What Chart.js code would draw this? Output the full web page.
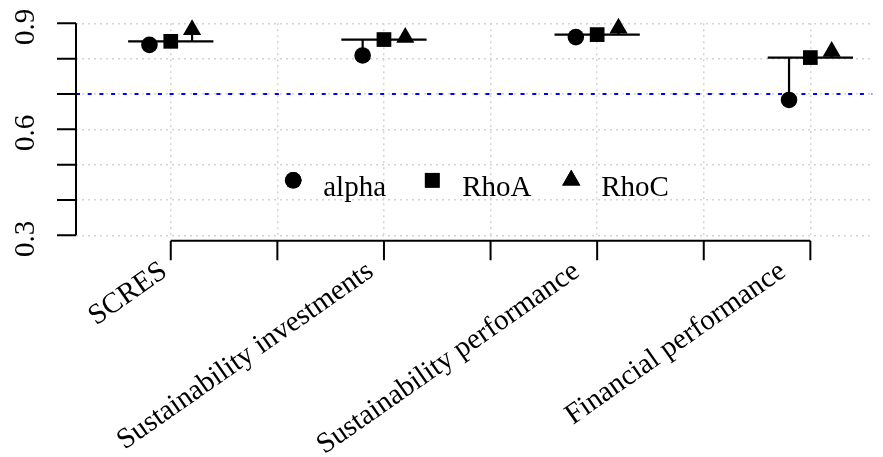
<!DOCTYPE html>
<html>
<head>
<meta charset="utf-8">
<script src="https://cdn.jsdelivr.net/npm/chart.js@4.4.1/dist/chart.umd.min.js"></script>
<style>
    html, body { margin: 0; padding: 0; background: #ffffff; }
    #wrap { width: 883px; height: 457px; position: relative; }
</style>
</head>
<body>
<div id="wrap"><canvas id="reliabilityChart"></canvas></div>
<script>
// 구성개념별 신뢰도 값
const constructs = ['SCRES', 'Sustainability investments', 'Sustainability performance', 'Financial performance'];
const constructPos = [1, 3, 5, 7];
const alphaValues = [0.839, 0.809, 0.861, 0.683];
const rhoAValues = [0.849, 0.854, 0.868, 0.803];
const rhoCValues = [0.882, 0.860, 0.886, 0.820];
const seriesNames = ['alpha', 'RhoA', 'RhoC'];
const yTicks = [0.3, 0.4, 0.5, 0.6, 0.7, 0.8, 0.9];
const yTickLabels = ['0.3', '', '', '0.6', '', '', '0.9'];
const xTicks = [1, 2, 3, 4, 5, 6, 7];
const threshold = 0.7;

const X_MIN = 0.111;
const X_MAX = 7.583;
const FONT = '29px "Liberation Serif", "Times New Roman", serif';

// 세로 기준선 + 가로 RhoA 선 데이터 만들기
function buildSegments() {
    const pts = [];
    constructPos.forEach((g, i) => {
        pts.push({ x: g - 0.4, y: rhoAValues[i] }, { x: g + 0.4, y: rhoAValues[i] }, { x: g, y: null });
        pts.push({ x: g - 0.2, y: alphaValues[i] }, { x: g - 0.2, y: rhoAValues[i] }, { x: g, y: null });
        pts.push({ x: g + 0.2, y: rhoCValues[i] }, { x: g + 0.2, y: rhoAValues[i] }, { x: g, y: null });
    });
    return pts;
}

// R 스타일 축 (첫 눈금 ~ 마지막 눈금까지만 선)
const rStyleAxes = {
    id: 'rStyleAxes',
    afterDraw(chart) {
        const { ctx, chartArea } = chart;
        const xs = chart.scales.x;
        const ys = chart.scales.y;
        ctx.save();
        ctx.strokeStyle = '#000';
        ctx.lineWidth = 2;

        // y축
        const axX = chartArea.left;
        ctx.beginPath();
        ctx.moveTo(axX, ys.getPixelForValue(yTicks[0]));
        ctx.lineTo(axX, ys.getPixelForValue(yTicks[yTicks.length - 1]));
        yTicks.forEach(v => {
            const py = ys.getPixelForValue(v);
            ctx.moveTo(axX - 19, py);
            ctx.lineTo(axX, py);
        });
        ctx.stroke();

        // x축 (플롯 영역보다 살짝 아래)
        const axY = chartArea.bottom + 5.5;
        ctx.beginPath();
        ctx.moveTo(xs.getPixelForValue(xTicks[0]), axY);
        ctx.lineTo(xs.getPixelForValue(xTicks[xTicks.length - 1]), axY);
        xTicks.forEach(v => {
            const px = xs.getPixelForValue(v);
            ctx.moveTo(px, axY);
            ctx.lineTo(px, axY + 19.5);
        });
        ctx.stroke();

        ctx.fillStyle = '#000';
        ctx.font = FONT;

        // y 눈금 라벨 (세로 회전)
        yTicks.forEach((v, i) => {
            if (!yTickLabels[i]) return;
            const py = ys.getPixelForValue(v);
            ctx.save();
            ctx.translate(34, py + 3.5);
            ctx.rotate(-Math.PI / 2);
            ctx.textAlign = 'center';
            ctx.textBaseline = 'alphabetic';
            ctx.fillText(yTickLabels[i], 0, 0);
            ctx.restore();
        });

        // x 라벨 (35도 기울임) - 원본은 라벨 간격이 눈금 간격보다 살짝 좁음
        const firstPx = xs.getPixelForValue(constructPos[0]);
        constructPos.forEach((g, i) => {
            const px = firstPx + (xs.getPixelForValue(g) - firstPx) * 0.967 - 2;
            ctx.save();
            ctx.translate(px, axY + 34);
            ctx.rotate(-35 * Math.PI / 180);
            ctx.textAlign = 'right';
            ctx.textBaseline = 'alphabetic';
            ctx.fillText(constructs[i], 0, 0);
            ctx.restore();
        });
        ctx.restore();
    }
};

// 플롯 안쪽 가로 범례
const innerLegend = {
    id: 'innerLegend',
    afterDraw(chart) {
        const { ctx, chartArea } = chart;
        const styles = ['circle', 'rect', 'triangle'];
        const radii = [8.3, 10.4, 10.5];
        ctx.save();
        ctx.font = FONT;
        const step = 139;
        const cx = (chartArea.left + chartArea.right) / 2;
        const x0 = cx - 181;
        const yMid = chartArea.bottom - 55;
        seriesNames.forEach((name, i) => {
            const sx = x0 + i * step;
            Chart.helpers.drawPoint(ctx, {
                pointStyle: styles[i], radius: radii[i], rotation: 0, borderWidth: 0
            }, sx, yMid);
            ctx.fillStyle = '#000';
            ctx.fill();
            ctx.textAlign = 'left';
            ctx.textBaseline = 'alphabetic';
            ctx.fillText(name, sx + 30, yMid + 16);
        });
        ctx.restore();
    }
};

document.addEventListener('DOMContentLoaded', () => {
    const ctx = document.getElementById('reliabilityChart').getContext('2d');
    const offsetPts = (vals, off) => vals.map((v, i) => ({ x: constructPos[i] + off, y: v }));

    new Chart(ctx, {
        type: 'scatter',
        data: {
            datasets: [
                {
                    label: 'alpha',
                    data: offsetPts(alphaValues, -0.2),
                    pointStyle: 'circle',
                    pointRadius: 8.3,
                    backgroundColor: '#000',
                    borderWidth: 0,
                    clip: false
                },
                {
                    label: 'RhoA',
                    data: offsetPts(rhoAValues, 0),
                    pointStyle: 'rect',
                    pointRadius: 10.4,
                    backgroundColor: '#000',
                    borderWidth: 0,
                    clip: false
                },
                {
                    label: 'RhoC',
                    data: offsetPts(rhoCValues, 0.2),
                    pointStyle: 'triangle',
                    pointRadius: 10.5,
                    backgroundColor: '#000',
                    borderWidth: 0,
                    clip: false
                },
                {
                    label: 'segments',
                    data: buildSegments(),
                    showLine: true,
                    spanGaps: false,
                    borderColor: '#000',
                    borderWidth: 2.2,
                    pointRadius: 0,
                    clip: false
                },
                {
                    label: 'threshold',
                    data: [{ x: X_MIN, y: threshold }, { x: X_MAX, y: threshold }],
                    showLine: true,
                    borderColor: '#0000ff',
                    borderWidth: 2,
                    borderDash: [4, 7.7],
                    pointRadius: 0
                }
            ]
        },
        options: {
            responsive: true,
            maintainAspectRatio: false,
            animation: false,
            layout: { padding: { left: 76, top: 23.3, right: 0, bottom: 221.7 } },
            plugins: {
                legend: { display: false },
                tooltip: { enabled: false }
            },
            scales: {
                x: {
                    type: 'linear',
                    min: X_MIN,
                    max: X_MAX,
                    afterBuildTicks: s => { s.ticks = xTicks.map(v => ({ value: v })); },
                    ticks: { display: false },
                    grid: { color: '#d3d3d3', lineWidth: 1.5, drawTicks: false },
                    border: { display: false, dash: [2, 4] }
                },
                y: {
                    type: 'linear',
                    min: 0.3,
                    max: 0.9,
                    afterBuildTicks: s => { s.ticks = yTicks.map(v => ({ value: v })); },
                    ticks: { display: false },
                    grid: { color: '#d3d3d3', lineWidth: 1.5, drawTicks: false },
                    border: { display: false, dash: [2, 4] }
                }
            }
        },
        plugins: [rStyleAxes, innerLegend]
    });
});
</script>
</body>
</html>
